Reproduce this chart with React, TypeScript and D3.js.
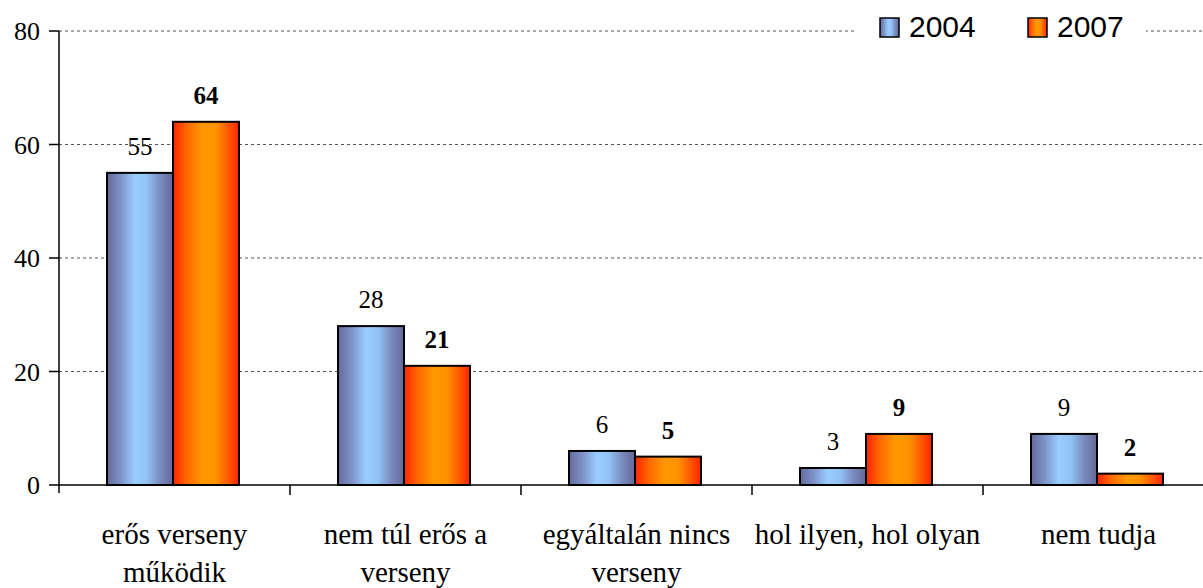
import React, { useEffect, useRef } from 'react';
import * as d3 from 'd3';

const categories = [
  'erős verseny működik',
  'nem túl erős a verseny',
  'egyáltalán nincs verseny',
  'hol ilyen, hol olyan',
  'nem tudja',
];
const categoryLines = [
  ['erős verseny', 'működik'],
  ['nem túl erős a', 'verseny'],
  ['egyáltalán nincs', 'verseny'],
  ['hol ilyen, hol olyan'],
  ['nem tudja'],
];
const years = ['2004', '2007'];
const values2004 = [55, 28, 6, 3, 9];
const values2007 = [64, 21, 5, 9, 2];
const yTicks = [0, 20, 40, 60, 80];

const WIDTH = 1203;
const HEIGHT = 588;
const SERIF = "'Liberation Serif', 'Times New Roman', serif";

export default function App() {
  const svgRef = useRef<SVGSVGElement>(null);

  useEffect(() => {
    if (!svgRef.current) return;
    const svg = d3.select(svgRef.current);
    svg.selectAll('*').remove();

    const margin = { top: 31, left: 59, bottom: 103 };
    const bandWidth = 231;
    const innerHeight = HEIGHT - margin.top - margin.bottom;

    const x = d3.scaleBand<string>()
      .domain(categories)
      .range([margin.left, margin.left + bandWidth * categories.length]);

    const x1 = d3.scaleBand<string>()
      .domain(years)
      .range([0, 132]);

    const y = d3.scaleLinear()
      .domain([0, 80])
      .range([margin.top + innerHeight, margin.top]);

    const defs = svg.append('defs');
    const blue = defs.append('linearGradient').attr('id', 'g2004');
    [[0, '#656a9b'], [0.2, '#7c91c6'], [0.42, '#99ccff'], [0.6, '#93c3f5'], [0.8, '#7a8cc0'], [1, '#646898']]
      .forEach(([o, c]) => blue.append('stop').attr('offset', o as number).attr('stop-color', c as string));
    const orange = defs.append('linearGradient').attr('id', 'g2007');
    [[0, '#ff2200'], [0.2, '#ff6600'], [0.45, '#ff9900'], [0.65, '#ff9200'], [0.85, '#ff5500'], [1, '#ff2200']]
      .forEach(([o, c]) => orange.append('stop').attr('offset', o as number).attr('stop-color', c as string));

    // gridlines
    svg.append('g')
      .selectAll('line')
      .data(yTicks.filter(t => t > 0))
      .join('line')
      .attr('x1', margin.left)
      .attr('x2', WIDTH)
      .attr('y1', d => y(d))
      .attr('y2', d => y(d))
      .attr('stroke', '#555')
      .attr('stroke-width', 1)
      .attr('stroke-dasharray', '3,3');

    // bars
    const groups = svg.append('g')
      .selectAll('g')
      .data(categories)
      .join('g')
      .attr('transform', d => `translate(${(x(d) ?? 0) + 48},0)`);

    const series = [values2004, values2007];
    years.forEach((yr, si) => {
      groups.append('rect')
        .attr('x', x1(yr) ?? 0)
        .attr('width', x1.bandwidth())
        .attr('y', (_, i) => y(series[si][i]))
        .attr('height', (_, i) => y(0) - y(series[si][i]))
        .attr('fill', `url(#g${yr})`)
        .attr('stroke', '#000')
        .attr('stroke-width', 2);

      groups.append('text')
        .attr('x', (x1(yr) ?? 0) + x1.bandwidth() / 2)
        .attr('y', (_, i) => y(series[si][i]) - 18)
        .attr('text-anchor', 'middle')
        .style('font-family', SERIF)
        .attr('font-size', 25)
        .attr('font-weight', si === 1 ? 'bold' : 'normal')
        .attr('fill', '#000')
        .text((_, i) => series[si][i]);
    });

    // y axis
    svg.append('line')
      .attr('x1', margin.left).attr('x2', margin.left)
      .attr('y1', y(80)).attr('y2', y(0) + 8)
      .attr('stroke', '#000').attr('stroke-width', 1.5);
    const yt = svg.append('g').selectAll('g').data(yTicks).join('g');
    yt.append('line')
      .attr('x1', margin.left - 10).attr('x2', margin.left)
      .attr('y1', d => y(d)).attr('y2', d => y(d))
      .attr('stroke', '#000').attr('stroke-width', 1.5);
    yt.append('text')
      .attr('x', margin.left - 19)
      .attr('y', d => y(d) + 9)
      .attr('text-anchor', 'end')
      .style('font-family', SERIF)
      .attr('font-size', 26)
      .text(d => d);

    // x axis
    svg.append('line')
      .attr('x1', margin.left).attr('x2', WIDTH)
      .attr('y1', y(0)).attr('y2', y(0))
      .attr('stroke', '#000').attr('stroke-width', 1.5);
    svg.append('g').selectAll('line')
      .data(categories.slice(1))
      .join('line')
      .attr('x1', d => x(d) ?? 0).attr('x2', d => x(d) ?? 0)
      .attr('y1', y(0)).attr('y2', y(0) + 10)
      .attr('stroke', '#000').attr('stroke-width', 1.5);

    const labels = svg.append('g').selectAll('text')
      .data(categories)
      .join('text')
      .attr('text-anchor', 'middle')
      .style('font-family', SERIF)
      .attr('font-size', 29)
      .attr('fill', '#000');
    labels.each(function (d, i) {
      const t = d3.select(this);
      categoryLines[i].forEach((line, li) => {
        t.append('tspan')
          .attr('x', (x(d) ?? 0) + bandWidth / 2)
          .attr('y', y(0) + 59 + li * 38)
          .text(line);
      });
    });

    // legend
    const legend = svg.append('g');
    legend.append('rect')
      .attr('x', 856).attr('y', 8).attr('width', 290).attr('height', 40)
      .attr('fill', '#fff');
    const legendX = [880, 1028];
    years.forEach((yr, i) => {
      legend.append('rect')
        .attr('x', legendX[i]).attr('y', 18).attr('width', 19).attr('height', 19)
        .attr('fill', `url(#g${yr})`)
        .attr('stroke', '#000').attr('stroke-width', 1.5);
      legend.append('text')
        .attr('x', legendX[i] + 29).attr('y', 37)
        .style('font-family', "'Liberation Sans', Arial, sans-serif")
        .attr('font-size', 30)
        .attr('fill', '#000')
        .text(yr);
    });
  }, []);

  return (
    <div style={{ position: 'absolute', left: 0, top: 0, width: WIDTH, height: HEIGHT, background: '#fff', overflow: 'hidden' }}>
      <svg ref={svgRef} width={WIDTH} height={HEIGHT} style={{ display: 'block' }} />
    </div>
  );
}
